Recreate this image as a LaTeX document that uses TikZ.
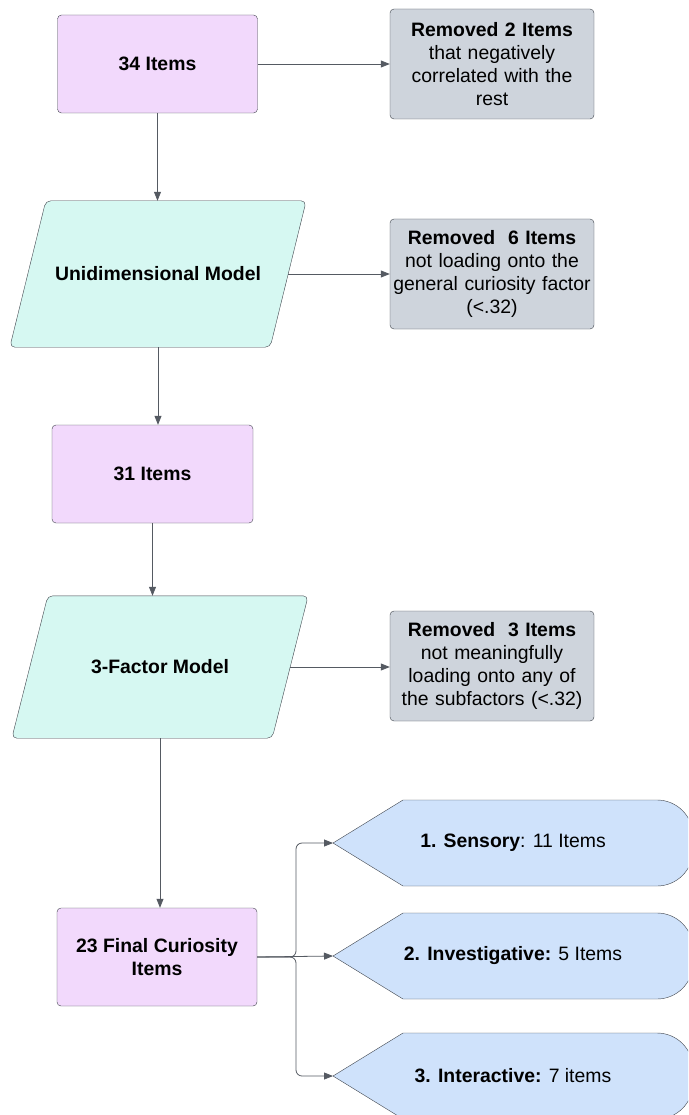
\documentclass[tikz,border=0pt]{standalone}
\usepackage{fontspec}
\setmainfont{Liberation Sans}
\usetikzlibrary{arrows.meta}

\definecolor{linegray}{HTML}{3F444C}
\definecolor{arrowgray}{HTML}{555A62}
\definecolor{itemfill}{HTML}{F2D9FC}
\definecolor{modelfill}{HTML}{D6F8F2}
\definecolor{dropfill}{HTML}{CED4DC}
\definecolor{factorfill}{HTML}{CFE2FB}

\newcommand{\boxfont}{\fontsize{19.4}{23}\selectfont}

\tikzset{
  itembox/.style={draw=linegray, fill=itemfill, rounded corners=4pt,
    minimum width=200pt, minimum height=98pt, align=center, font=\boxfont\bfseries},
  modelbox/.style={minimum width=260pt, minimum height=146pt,
    inner sep=0pt, font=\boxfont\bfseries},
  modelshape/.style={draw=linegray, fill=modelfill, rounded corners=5pt},
  dropbox/.style={draw=linegray, fill=dropfill, rounded corners=4pt,
    minimum width=204pt, minimum height=110pt, text width=204pt,
    align=center, inner sep=0pt, font=\boxfont},
  factor/.style={draw=linegray, fill=factorfill, line join=round},
  link/.style={draw=arrowgray, line width=0.8pt, -{Triangle[length=9pt,width=7pt]}}
}

\begin{document}
\begin{tikzpicture}[x=1pt,y=-1pt]
  \useasboundingbox (0,0) rectangle (688,1115);
  \clip (0,0) rectangle (688,1115);

  % main column
  \node[itembox] (items34) at (157.5,64) {34 Items};
  \node[modelbox] (unidim) at (158,274) {};
  \node[itembox, minimum width=201pt] (items31) at (152.5,474) {31 Items};
  \node[modelbox, minimum height=142pt] (threefac) at (160,667) {};
  \node[itembox] (items23) at (157,957) {23 Final Curiosity\\Items};

  % parallelograms round the model nodes
  \foreach \m/\txt in {unidim/Unidimensional Model, threefac/3-Factor Model} {
    \draw[modelshape] ([xshift=-18pt]\m.south west) -- ([xshift=-18pt]\m.south east)
      -- ([xshift=18pt]\m.north east) -- ([xshift=18pt]\m.north west) -- cycle;
    \node[font=\boxfont\bfseries] (\m-label) at (\m) {\txt};
  }

  % removed items
  \node[dropbox] (drop1) at (492,64) {\textbf{Removed 2 Items}\\that negatively\\correlated with the\\rest};
  \node[dropbox] (drop2) at (492,274) {\textbf{Removed\ \ 6 Items}\\not loading onto the\\general curiosity factor\\(<.32)};
  \node[dropbox] (drop3) at (492,666) {\textbf{Removed\ \ 3 Items}\\not meaningfully\\loading onto any of\\the subfactors (<.32)};

  % subfactors
  \coordinate (tip1) at (333,843);
  \coordinate (tip2) at (333,956);
  \coordinate (tip3) at (333,1076);
  \foreach \t in {1,2,3} {
    \draw[factor] (tip\t) -- ++(70,-43) [rounded corners=36pt] -- ++(290,0) -- ++(0,86)
      [sharp corners] -- ++(-290,0) -- cycle;
  }
  \node[font=\boxfont] (sensory) at (513,843) {\textbf{1. Sensory}: 11 Items};
  \node[font=\boxfont] (invest) at (513,956) {\textbf{2. Investigative:} 5 Items};
  \node[font=\boxfont] (interact) at (513,1076) {\textbf{3. Interactive:} 7 items};

  % connectors
  \draw[link] (items34) -- (drop1);
  \draw[link] (items34.south) -- (items34.south |- unidim.north);
  \draw[link] (unidim.east) -- (drop2.west);
  \draw[link] (unidim.south) -- (unidim.south |- items31.north);
  \draw[link] (items31.south) -- (items31.south |- threefac.north);
  \draw[link] (threefac.east) -- (threefac.east -| drop3.west);
  \draw[link] (threefac.south) -- (threefac.south |- items23.north);

  \coordinate (split) at (296,957);
  \draw[link, rounded corners=6pt] (items23.east) -- (split) |- (tip1);
  \draw[link] (items23.east) -- (tip2);
  \draw[link, rounded corners=6pt] (items23.east) -- (split) |- (tip3);
\end{tikzpicture}
\end{document}
